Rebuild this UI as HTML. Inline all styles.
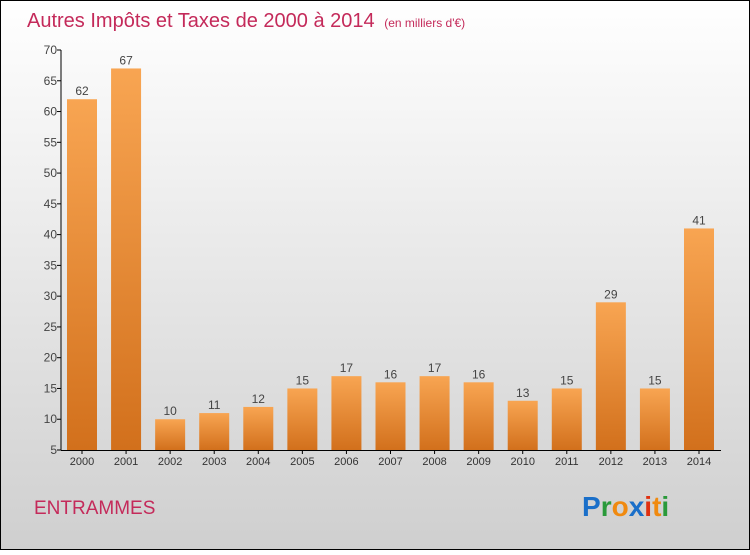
<!DOCTYPE html>
<html><head><meta charset="utf-8"><style>
html,body{margin:0;padding:0}
body{width:750px;height:550px;overflow:hidden;font-family:"Liberation Sans",sans-serif}
</style></head><body>
<svg id="chart" width="750" height="550" xmlns="http://www.w3.org/2000/svg">
<defs>
<linearGradient id="bg" x1="0" y1="0" x2="0" y2="1"><stop offset="0" stop-color="#ffffff"/><stop offset="1" stop-color="#cfcfcf"/></linearGradient>
<linearGradient id="bar" x1="0" y1="0" x2="0" y2="1"><stop offset="0" stop-color="#f8a552"/><stop offset="1" stop-color="#d2701c"/></linearGradient>
</defs>
<rect x="0.5" y="0.5" width="749" height="549" fill="url(#bg)" stroke="#000"/>
<text x="27" y="27" font-size="20" fill="#c42a5a">Autres Impôts et Taxes de 2000 à 2014 <tspan font-size="12" dx="4">(en milliers d'€)</tspan></text>
<text x="34" y="514" font-size="19" fill="#c42a5a">ENTRAMMES</text>
<g font-size="28" font-weight="bold" font-family="'Liberation Sans',sans-serif">
<text x="582" y="516"><tspan fill="#1a6fc9">P</tspan><tspan fill="#2a9a3a">r</tspan><tspan fill="#f08a10">o</tspan><tspan fill="#1a6fc9">x</tspan><tspan fill="#e03010">i</tspan><tspan fill="#f08a10">t</tspan><tspan fill="#2a9a3a">i</tspan></text>
</g>
<g id="axes"></g>
<g id="bars"></g>
</svg>
<script>
const categories=["2000","2001","2002","2003","2004","2005","2006","2007","2008","2009","2010","2011","2012","2013","2014"];
const values=[62,67,10,11,12,15,17,16,17,16,13,15,29,15,41];
const yTicks=[5,10,15,20,25,30,35,40,45,50,55,60,65,70];
const yMin=5,yMax=70,yTop=50,yBot=450,axisX=61;
function y(v){return yBot-(v-yMin)/(yMax-yMin)*(yBot-yTop);}
function x(i){return 82+i*(699-82)/(categories.length-1);}
const NS="http://www.w3.org/2000/svg";
const axes=document.getElementById("axes"),bars=document.getElementById("bars");
function mk(tag,attrs,parent){const e=document.createElementNS(NS,tag);for(const k in attrs)e.setAttribute(k,attrs[k]);parent.appendChild(e);return e;}
const yl=mk("line",{x1:axisX,y1:yTop,x2:axisX,y2:yBot,stroke:"#000"},axes);


const xl=mk("line",{x1:axisX,y1:yBot+0.5,x2:721,y2:yBot+0.5,stroke:"#000"},axes);


yTicks.forEach(t=>{
  const tk=mk("line",{x1:axisX-4,y1:y(t),x2:axisX,y2:y(t),stroke:"#000"},axes);
  
  
  const lb=mk("text",{x:axisX-4,y:y(t)+4,"text-anchor":"end","font-size":"12",fill:"#444"},axes);
  lb.textContent=t;
  
  
});
categories.forEach((c,i)=>{
  const cx=x(i);
  const tk=mk("line",{x1:cx,y1:yBot,x2:cx,y2:yBot+4,stroke:"#000"},axes);
  
  
  const lb=mk("text",{x:cx,y:yBot+15,"text-anchor":"middle","font-size":"11",fill:"#333"},axes);
  lb.textContent=c;
  
  
  const b=mk("rect",{x:cx-15,y:y(values[i]),width:30,height:yBot-y(values[i]),fill:"url(#bar)"},bars);
  
  
  const v=mk("text",{x:cx,y:y(values[i])-4,"text-anchor":"middle","font-size":"12",fill:"#444"},bars);
  v.textContent=values[i];
  
  
});
</script>
</body></html>
